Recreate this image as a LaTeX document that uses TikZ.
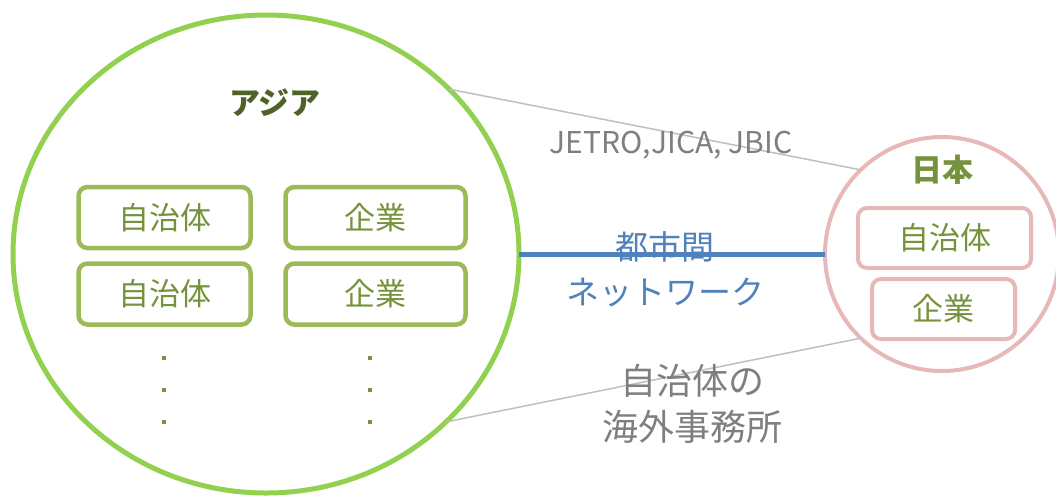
\documentclass[tikz,border=0pt]{standalone}
\usepackage{fontspec}
\setmainfont{Noto Sans CJK JP}
\usetikzlibrary{shapes.geometric}
\definecolor{circgreen}{HTML}{92D050}
\definecolor{boxgreen}{HTML}{9BBB59}
\definecolor{txtgreen}{HTML}{76923C}
\definecolor{darkgreen}{HTML}{4F6228}
\definecolor{pinkc}{HTML}{E6B9B8}
\definecolor{grayline}{HTML}{BFBFBF}
\definecolor{graytxt}{HTML}{7F7F7F}
\definecolor{bluec}{HTML}{4F81BD}
\tikzset{
  gbox/.style={draw=boxgreen, line width=4.5pt, rounded corners=9pt, inner sep=0pt,
    text=txtgreen, font=\fontsize{31pt}{36pt}\selectfont, minimum height=61pt},
  pbox/.style={draw=pinkc, line width=4pt, rounded corners=9pt, inner sep=0pt,
    text=txtgreen, font=\fontsize{31pt}{36pt}\selectfont, minimum height=60pt},
  dotmark/.style={fill=txtgreen, inner sep=0pt, minimum size=4pt},
  conn/.style={draw=grayline, line width=1.5pt},
}
\begin{document}
\begin{tikzpicture}[x=1pt,y=-1pt]
\useasboundingbox (0,0) rectangle (1056,496);
% big circle (Asia)
\node (asia) [ellipse, draw=circgreen, line width=5pt, minimum width=506pt, minimum height=478pt, inner sep=0pt, outer sep=0pt] at (266,254) {};
% small circle (Japan)
\node (japan) [circle, draw=pinkc, line width=4pt, minimum size=234pt, inner sep=0pt, outer sep=0pt] at (942,254) {};
% connectors
\draw[conn] (asia.42) -- (japan.134);
\draw[conn] (asia.-43) -- (japan.226);
\draw[draw=bluec, line width=5pt] (asia.east) -- (japan.west);
% titles
\node (asiat) [text=darkgreen, font=\fontsize{31pt}{34pt}\selectfont\bfseries] at (275,103) {アジア};
\node (japant) [text=txtgreen, font=\fontsize{31pt}{34pt}\selectfont\bfseries] at (942,170) {日本};
% Asia boxes
\node (a1) [gbox, minimum width=172pt] at (164.5,217.5) {自治体};
\node (a2) [gbox, minimum width=180pt] at (375.5,217.5) {企業};
\node (a3) [gbox, minimum width=172pt] at (164.5,294) {自治体};
\node (a4) [gbox, minimum width=180pt] at (375.5,294) {企業};
% dots
\node (d1) [dotmark] at (164,358) {};
\node (d2) [dotmark] at (164,390) {};
\node (d3) [dotmark] at (164,422) {};
\node (d4) [dotmark] at (370,358) {};
\node (d5) [dotmark] at (370,390) {};
\node (d6) [dotmark] at (370,422) {};
% Japan boxes
\node (j1) [pbox, minimum width=173pt] at (944.5,238) {自治体};
\node (j2) [pbox, minimum width=143pt] at (943.5,309) {企業};
% labels
\node (lab1) [text=graytxt, font=\fontsize{30pt}{36pt}\selectfont] at (671,145) {JETRO,JICA, JBIC};
\node (lab2) [text=bluec, align=center, font=\fontsize{33pt}{45pt}\selectfont] at (665,269) {都市間\\ネットワーク};
\node (lab3) [text=graytxt, align=center, font=\fontsize{36pt}{46pt}\selectfont] at (692,404) {自治体の\\海外事務所};
\end{tikzpicture}
\end{document}
